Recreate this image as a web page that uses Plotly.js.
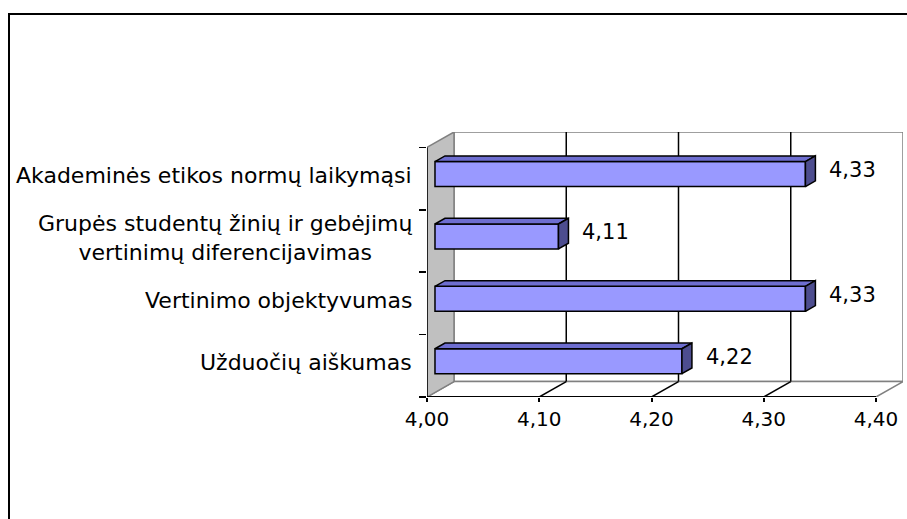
<!DOCTYPE html>
<html>
<head>
<meta charset="utf-8">
<script src="https://cdn.plot.ly/plotly-3.0.1.min.js"></script>
<style>
  html, body { margin: 0; padding: 0; background: #fff; overflow: hidden; }
  #frame { position: absolute; left: 8px; top: 13px; width: 1000px; height: 1000px; border: 2px solid #000; box-sizing: border-box; z-index: 0; }
  #chart { position: absolute; left: 0; top: 0; width: 907px; height: 519px; z-index: 1; }
</style>
</head>
<body>
<div id="frame"></div>
<div id="chart"></div>
<script>
// ---- data ----
const categories = [
  'Užduočių aiškumas',
  'Vertinimo objektyvumas',
  'Grupės studentų žinių ir gebėjimų<br>vertinimų diferencijavimas',
  'Akademinės etikos normų laikymąsi'
];
const values = [4.22, 4.33, 4.11, 4.33];
const valueLabels = ['4,22', '4,33', '4,11', '4,33'];
const xTickVals = [4.0, 4.1, 4.2, 4.3, 4.4];
const xTickText = ['4,00', '4,10', '4,20', '4,30', '4,40'];

// ---- geometry (3D look) ----
const W = 907, H = 519;
const M = { l: 427, r: 4, t: 131.5, b: 122 };
const xMin = xTickVals[0], xMax = xTickVals[xTickVals.length - 1];
const frontW = 449;                         // px width of front plane
const pxPerX = frontW / (xMax - xMin);
const nCat = categories.length;
const depthPx = { x: 27, y: 15.5 };
const frontH = (H - M.t - M.b) - depthPx.y;
const pxPerCat = frontH / nCat;
const Dx = depthPx.x / pxPerX;
const Dy = depthPx.y / pxPerCat;
const yLo = -0.5, yHi = nCat - 0.5;
const barFront = 0.296, barDepth = 0.37, barW = 0.4;

const idx = categories.map((_, i) => i);
const fontFam = '"DejaVu Sans", Arial, sans-serif';
const grey = '#808080';

const shapes = [];
function path(pts) { return 'M' + pts.map(p => p[0] + ',' + p[1]).join('L') + 'Z'; }
// back wall
shapes.push({ type: 'path', xref: 'x', yref: 'y', layer: 'below',
  path: path([[xMin + Dx, yLo + Dy], [xMax + Dx, yLo + Dy], [xMax + Dx, yHi + Dy], [xMin + Dx, yHi + Dy]]),
  fillcolor: '#ffffff', line: { color: grey, width: 1.5 } });
// floor
shapes.push({ type: 'path', xref: 'x', yref: 'y', layer: 'below',
  path: path([[xMin, yLo], [xMax, yLo], [xMax + Dx, yLo + Dy], [xMin + Dx, yLo + Dy]]),
  fillcolor: '#ffffff', line: { color: grey, width: 1.5 } });
// side wall
shapes.push({ type: 'path', xref: 'x', yref: 'y', layer: 'below',
  path: path([[xMin, yLo], [xMin, yHi], [xMin + Dx, yHi + Dy], [xMin + Dx, yLo + Dy]]),
  fillcolor: '#c0c0c0', line: { color: grey, width: 1.5 } });
// gridlines on back wall and floor
xTickVals.slice(1, -1).forEach(v => {
  shapes.push({ type: 'line', xref: 'x', yref: 'y', layer: 'below',
    x0: v + Dx, x1: v + Dx, y0: yLo + Dy, y1: yHi + Dy, line: { color: '#000', width: 1.5 } });
  shapes.push({ type: 'line', xref: 'x', yref: 'y', layer: 'below',
    x0: v, x1: v + Dx, y0: yLo, y1: yLo + Dy, line: { color: '#000', width: 1.5 } });
});
// front axes
shapes.push({ type: 'line', xref: 'x', yref: 'y', x0: xMin, x1: xMax, y0: yLo, y1: yLo, line: { color: '#000', width: 2 } });
shapes.push({ type: 'line', xref: 'x', yref: 'y', x0: xMin, x1: xMin, y0: yLo, y1: yHi, line: { color: '#000', width: 1.5 } });

// ---- bars ----
const traces = [];
traces.push({
  type: 'bar', orientation: 'h',
  y: idx, x: values.map(v => v - xMin),
  base: values.map(() => xMin + barFront * Dx),
  width: barW, offset: -barW / 2 + barFront * Dy,
  marker: { color: '#9999ff', line: { color: '#000', width: 1.5 } },
  hoverinfo: 'skip', showlegend: false
});
values.forEach((v, i) => {
  const x0 = xMin + barFront * Dx, x1 = v + barFront * Dx;
  const yb = i - barW / 2 + barFront * Dy, yt = i + barW / 2 + barFront * Dy;
  const ddx = barDepth * Dx, ddy = barDepth * Dy;
  traces.push({ type: 'scatter', mode: 'lines', fill: 'toself', fillcolor: '#6e6ed0',
    x: [x0, x1, x1 + ddx, x0 + ddx, x0], y: [yt, yt, yt + ddy, yt + ddy, yt],
    line: { color: '#000', width: 1.5 }, hoverinfo: 'skip', showlegend: false });
  traces.push({ type: 'scatter', mode: 'lines', fill: 'toself', fillcolor: '#4d4d8f',
    x: [x1, x1, x1 + ddx, x1 + ddx, x1], y: [yb, yt, yt + ddy, yb + ddy, yb],
    line: { color: '#000', width: 1.5 }, hoverinfo: 'skip', showlegend: false });
});
// boundary ticks on the category axis
traces.push({ type: 'scatter', x: [null], y: [null], yaxis: 'y2', hoverinfo: 'skip', showlegend: false });

const annotations = [];
values.forEach((v, i) => {
  annotations.push({ x: v + barFront * Dx, y: i + barFront * Dy, xref: 'x', yref: 'y',
    text: valueLabels[i], showarrow: false, xanchor: 'left', yanchor: 'middle',
    xshift: 22, yshift: 4, font: { family: fontFam, size: 21, color: '#000' } });
});
categories.forEach((c, i) => {
  annotations.push({ x: xMin, y: i, xref: 'x', yref: 'y', text: c, showarrow: false,
    xanchor: 'right', yanchor: 'middle', align: 'center', xshift: -13, yshift: 3,
    font: { family: fontFam, size: 22, color: '#000' } });
});

const layout = {
  width: W, height: H,
  margin: M,
  paper_bgcolor: 'rgba(0,0,0,0)', plot_bgcolor: 'rgba(0,0,0,0)',
  showlegend: false,
  font: { family: fontFam, color: '#000' },
  xaxis: {
    range: [xMin, xMax + Dx], tickvals: xTickVals, ticktext: xTickText,
    ticks: 'outside', ticklen: 4, tickwidth: 2, tickcolor: '#000',
    showgrid: false, zeroline: false, showline: false,
    tickfont: { family: fontFam, size: 20, color: '#000' }, fixedrange: true
  },
  yaxis: {
    range: [yLo, yHi + Dy], showticklabels: false, showgrid: false, zeroline: false,
    showline: false, ticks: '', fixedrange: true
  },
  yaxis2: {
    overlaying: 'y', side: 'left', range: [yLo, yHi + Dy],
    tickvals: idx.concat([nCat]).map(i => i - 0.5), ticktext: idx.concat([nCat]).map(() => ''),
    ticks: 'outside', ticklen: 7, tickwidth: 1.5, tickcolor: '#000',
    showgrid: false, zeroline: false, showline: false, fixedrange: true
  },
  shapes: shapes,
  annotations: annotations
};

Plotly.newPlot('chart', traces, layout, { displayModeBar: false, staticPlot: true });
</script>
</body>
</html>
